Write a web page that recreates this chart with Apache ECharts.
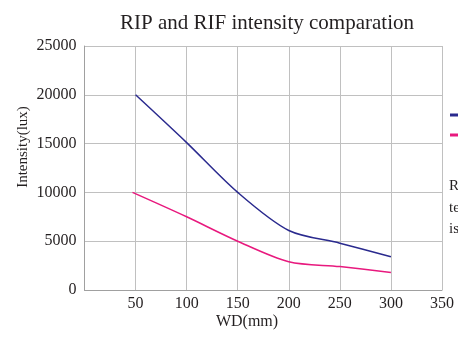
<!DOCTYPE html>
<html>
<head>
<meta charset="utf-8">
<script src="https://cdn.jsdelivr.net/npm/echarts@6/dist/echarts.min.js"></script>
<style>html,body{margin:0;padding:0;background:#fff;}#c{width:458px;height:338px;}</style>
</head>
<body>
<div id="c"></div>
<script>
var seriesNames = ['RIP', 'RIF'];
var ripX = [50, 100, 150, 200, 250, 300];
var ripY = [20000, 15100, 10000, 6100, 4800, 3400];
var rifX = [47, 100, 150, 200, 250, 300];
var rifY = [10000, 7500, 5000, 2900, 2400, 1800];
var xTicks = [0, 50, 100, 150, 200, 250, 300, 350];
var yTicks = [0, 5000, 10000, 15000, 20000, 25000];
var sideNotes = ['R', 'te', 'is'];

function pairs(xs, ys) { return xs.map(function (x, i) { return [x, ys[i]]; }); }

var font = 'Liberation Serif';
var chart = echarts.init(document.getElementById('c'));
chart.setOption({
  animation: false,
  textStyle: { fontFamily: font },
  title: {
    text: 'RIP and RIF intensity comparation',
    left: 115, top: 8,
    textStyle: { fontFamily: font, fontSize: 21, fontWeight: 'normal', color: '#231f20' }
  },
  legend: {
    orient: 'vertical', left: 450, top: 108, padding: 0, itemWidth: 20, itemHeight: 3, itemGap: 6,
    icon: 'rect',
    textStyle: { fontFamily: font, fontSize: 14, lineHeight: 14, color: '#231f20' },
    data: seriesNames
  },
  grid: { left: 84.5, right: 16, top: 46, bottom: 48, containLabel: false },
  xAxis: {
    type: 'value', min: xTicks[0], max: xTicks[xTicks.length - 1], interval: 50,
    axisLine: { show: true, lineStyle: { color: '#a0a0a0', width: 1 } },
    axisTick: { show: false },
    splitLine: { show: true, lineStyle: { color: '#c0c0c0', width: 1 } },
    axisLabel: {
      margin: 6, fontFamily: font, fontSize: 16, color: '#231f20',
      formatter: function (v) { return v === 0 ? '' : String(v); }
    }
  },
  yAxis: {
    type: 'value', min: yTicks[0], max: yTicks[yTicks.length - 1], interval: 5000,
    axisLine: { show: true, lineStyle: { color: '#a0a0a0', width: 1 } },
    axisTick: { show: false },
    splitLine: { show: true, lineStyle: { color: '#c0c0c0', width: 1 } },
    axisLabel: { margin: 8, fontFamily: font, fontSize: 16, color: '#231f20',
      formatter: function (v) { return String(v); } }
  },
  graphic: [
    { type: 'text', x: 23, y: 147, rotation: Math.PI / 2,
      style: { text: 'Intensity(lux)', font: '15px "Liberation Serif"', fill: '#231f20', textAlign: 'center', textVerticalAlign: 'middle' } },
    { type: 'text', x: 247, y: 322,
      style: { text: 'WD(mm)', font: '16px "Liberation Serif"', fill: '#231f20', textAlign: 'center', textVerticalAlign: 'middle' } },
    { type: 'text', x: 449, y: 186,
      style: { text: sideNotes[0], font: '15px "Liberation Serif"', fill: '#231f20', textVerticalAlign: 'middle' } },
    { type: 'text', x: 449, y: 208,
      style: { text: sideNotes[1], font: '15px "Liberation Serif"', fill: '#231f20', textVerticalAlign: 'middle' } },
    { type: 'text', x: 449, y: 229,
      style: { text: sideNotes[2], font: '15px "Liberation Serif"', fill: '#231f20', textVerticalAlign: 'middle' } }
  ],
  series: [
    { name: seriesNames[0], type: 'line', data: pairs(ripX, ripY), smooth: 0.3, showSymbol: false,
      lineStyle: { color: '#2a2a8e', width: 1.5 }, itemStyle: { color: '#2a2a8e' } },
    { name: seriesNames[1], type: 'line', data: pairs(rifX, rifY), smooth: 0.3, showSymbol: false,
      lineStyle: { color: '#e8197e', width: 1.5 }, itemStyle: { color: '#e8197e' } }
  ]
});
</script>
</body>
</html>
